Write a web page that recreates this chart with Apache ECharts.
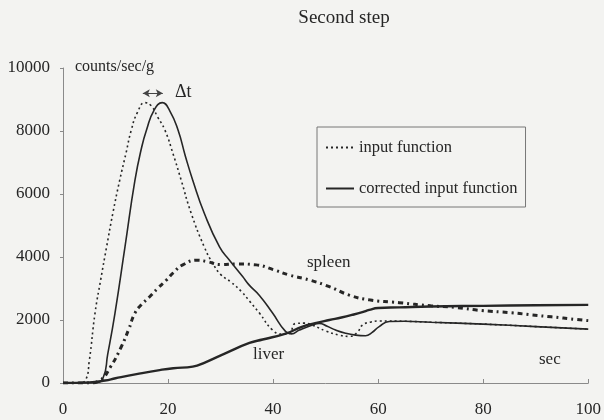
<!DOCTYPE html>
<html>
<head>
<meta charset="utf-8">
<script src="https://cdn.jsdelivr.net/npm/echarts@6/dist/echarts.min.js"></script>
<style>
  html, body { margin: 0; padding: 0; background: #f3f3f1; }
  #root { width: 604px; height: 420px; }
</style>
</head>
<body>
<div id="root"></div>
<script>
// time in sec, values in counts/sec/g
const inputX = [0, 3, 4.3, 5, 6.1, 7.2, 8.3, 9.5, 10.8, 12, 13, 14.2, 15.6, 16.8, 18, 19.4, 21, 22.5, 24.4, 26.9, 28.5, 30, 32, 34, 35.5, 37.4, 39.9, 41.8, 43, 44.3, 46, 47.5, 50, 52.6, 54.5, 56, 57, 58.5, 60.2, 65, 70, 80, 90, 100];
const inputY = [0, 10, 100, 700, 2220, 3300, 4320, 5400, 6440, 7300, 8030, 8600, 8900, 8800, 8450, 8030, 7250, 6440, 5390, 4320, 3800, 3450, 3200, 2900, 2600, 2220, 1680, 1550, 1560, 1890, 1900, 1840, 1650, 1520, 1480, 1600, 1840, 1930, 1970, 1960, 1930, 1870, 1790, 1710];

const correctedX = [0, 6, 7.6, 8.5, 9.9, 11.8, 13.7, 15, 15.9, 17.3, 18.9, 20.3, 21.9, 23.3, 24.7, 26.9, 29.8, 31.7, 34.2, 35.5, 37.4, 39.9, 42.4, 43.5, 45, 47.5, 48.8, 50.3, 51.9, 53.8, 55.7, 57.6, 58.8, 60.2, 62.1, 65, 70, 80, 90, 100];
const correctedY = [0, 10, 150, 900, 2220, 4320, 6440, 7500, 8030, 8650, 8900, 8650, 8030, 7200, 6440, 5390, 4320, 3900, 3380, 3100, 2780, 2220, 1630, 1560, 1680, 1840, 1890, 1800, 1680, 1580, 1520, 1500, 1600, 1790, 1950, 1960, 1930, 1870, 1790, 1710];

const spleenX = [0, 5, 7, 9, 11.1, 12.5, 13.7, 15, 16.5, 18, 19.7, 21, 22.8, 25.6, 27.5, 30, 33, 36.8, 40, 43, 46.9, 50.7, 54.5, 58.3, 64, 70, 74.7, 79.7, 85.4, 89.3, 93, 97.5, 100];
const spleenY = [0, 0, 80, 500, 1150, 1700, 2220, 2500, 2740, 3000, 3270, 3500, 3750, 3900, 3850, 3760, 3780, 3750, 3600, 3430, 3270, 3060, 2790, 2640, 2550, 2450, 2400, 2300, 2230, 2160, 2100, 2020, 1980];

const liverX = [0, 5, 8, 10, 14, 18.4, 21, 24.7, 27, 31, 35.5, 38, 42.4, 45.6, 48, 50.7, 53, 55, 57, 58.3, 60, 64, 70, 80, 90, 100];
const liverY = [0, 20, 80, 150, 280, 410, 470, 520, 650, 950, 1270, 1380, 1570, 1790, 1900, 2000, 2080, 2160, 2250, 2320, 2380, 2400, 2430, 2450, 2470, 2480];

// shift between input and corrected peaks
const deltaT = [15.2, 19.0];
const deltaY = 9200;

const xTicks = [0, 20, 40, 60, 80, 100];
const yTicks = [0, 2000, 4000, 6000, 8000, 10000];

const pairs = (xs, ys) => xs.map((x, i) => [x, ys[i]]);

const serif = '"Liberation Serif", "Times New Roman", serif';
const ink = '#262626';
const axisGray = '#8a8a8a';

const chart = echarts.init(document.getElementById('root'));

const curve = (name, xs, ys, lineStyle) => ({
  name,
  type: 'line',
  data: pairs(xs, ys),
  symbol: 'none',
  showSymbol: false,
  smooth: 0.5,
  lineStyle: Object.assign({ color: ink }, lineStyle),
  itemStyle: { color: ink }
});

const inputSeries = curve('input function', inputX, inputY, { width: 1.6, type: [2, 3] });
inputSeries.markLine = {
  silent: true,
  symbol: ['arrow', 'arrow'],
  symbolSize: [6, 7],
  label: { show: false },
  lineStyle: { color: '#444', width: 1, type: 'solid' },
  data: [[{ coord: [deltaT[0], deltaY] }, { coord: [deltaT[1], deltaY] }]]
};

const option = {
  animation: false,
  backgroundColor: '#f3f3f1',
  textStyle: { fontFamily: serif, color: ink },
  title: {
    text: 'Second step',
    left: 339,
    textAlign: 'center',
    top: 4,
    textStyle: { fontFamily: serif, fontSize: 19, fontWeight: 'normal', color: ink }
  },
  legend: {
    data: ['input function', 'corrected input function'],
    orient: 'vertical',
    left: 317,
    top: 127,
    padding: [12, 8, 10, 8],
    itemGap: 24,
    itemWidth: 28,
    itemHeight: 16,
    borderColor: '#777',
    borderWidth: 1,
    selectedMode: false,
    itemStyle: { opacity: 0 },
    textStyle: { fontFamily: serif, fontSize: 16.5, color: ink }
  },
  grid: { left: 63, right: 14, top: 68, bottom: 37 },
  xAxis: {
    type: 'value',
    min: xTicks[0],
    max: xTicks[xTicks.length - 1],
    interval: xTicks[1] - xTicks[0],
    splitLine: { show: false },
    axisLine: { lineStyle: { color: axisGray, width: 1 } },
    axisTick: { inside: true, length: 4, lineStyle: { color: axisGray } },
    axisLabel: { margin: 18, fontFamily: serif, fontSize: 17, color: ink, formatter: (v) => String(v) }
  },
  yAxis: {
    type: 'value',
    min: yTicks[0],
    max: yTicks[yTicks.length - 1],
    interval: yTicks[1] - yTicks[0],
    splitLine: { show: false },
    axisLine: { show: true, lineStyle: { color: axisGray, width: 1 } },
    axisTick: { show: true, length: 3, lineStyle: { color: axisGray } },
    axisLabel: { margin: 13, fontFamily: serif, fontSize: 17, color: ink, formatter: (v) => String(v) }
  },
  series: [
    inputSeries,
    curve('corrected input function', correctedX, correctedY, { width: 1.6, type: 'solid' }),
    curve('spleen', spleenX, spleenY, { width: 3, type: [5, 4, 2, 4] }),
    curve('liver', liverX, liverY, { width: 2.4, type: 'solid' })
  ],
  graphic: [
    { type: 'text', left: 75, top: 59, style: { text: 'counts/sec/g', font: '16px ' + serif, fill: ink } },
    { type: 'text', left: 175, top: 83, style: { text: 'Δt', font: '18px ' + serif, fill: ink } },
    { type: 'text', left: 307, top: 254, style: { text: 'spleen', font: '17px ' + serif, fill: ink } },
    { type: 'text', left: 253, top: 346, style: { text: 'liver', font: '17px ' + serif, fill: ink } },
    { type: 'text', left: 539, top: 351, style: { text: 'sec', font: '17px ' + serif, fill: ink } }
  ]
};

chart.setOption(option);
</script>
</body>
</html>
